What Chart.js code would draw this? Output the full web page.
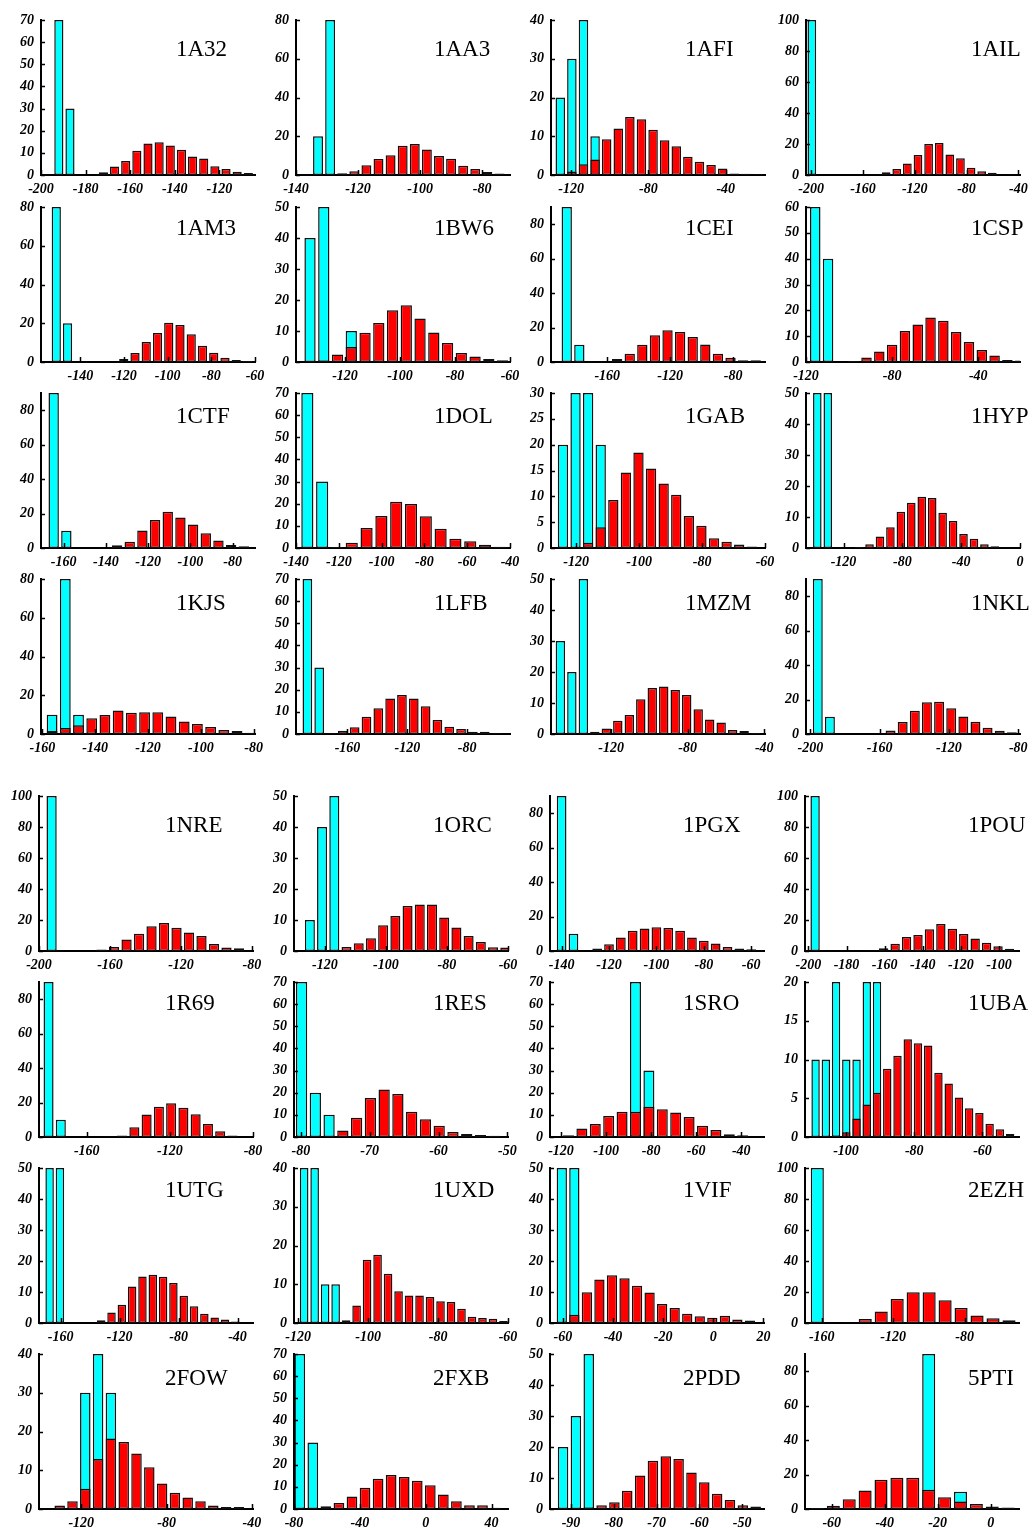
<!DOCTYPE html>
<html>
<head>
<meta charset="utf-8">
<title>Energy histograms</title>
<script src="https://cdn.jsdelivr.net/npm/chart.js@4.4.1/dist/chart.umd.min.js"></script>
<style>
  html, body { margin: 0; padding: 0; background: #fff; }
  #page { position: relative; width: 1036px; height: 1529px; overflow: hidden; }
  #page canvas { position: absolute; }
</style>
</head>
<body>
<div id="page"></div>
<script>
// one histogram per structure, row by row
const names = [
  '1A32', '1AA3', '1AFI', '1AIL',
  '1AM3', '1BW6', '1CEI', '1CSP',
  '1CTF', '1DOL', '1GAB', '1HYP',
  '1KJS', '1LFB', '1MZM', '1NKL',
  '1NRE', '1ORC', '1PGX', '1POU',
  '1R69', '1RES', '1SRO', '1UBA',
  '1UTG', '1UXD', '1VIF', '2EZH',
  '2FOW', '2FXB', '2PDD', '5PTI'
];

const xRanges = [
  [-200, -104], [-140, -71], [-130.4, -19.7], [-204, -38.7],
  [-158, -60], [-137.8, -60], [-195.7, -59.8], [-120, -20.6],
  [-170.7, -69.4], [-140, -40], [-128, -60], [-145.5, 0],
  [-160.5, -79.5], [-194.4, -51.4], [-151.4, -39.6], [-202.5, -79],
  [-200, -79.4], [-130.1, -60], [-144.9, -54.6], [-201.8, -89.5],
  [-183, -80], [-81, -49.9], [-124.9, -29.9], [-112, -49.3],
  [-174.7, -29.5], [-121.2, -60], [-65.1, 20.2], [-169.4, -49.5],
  [-139.8, -39.5], [-80, 50], [-94.9, -44.9], [-70.1, 10.7]
];

const xTicks = [
  [-200, -180, -160, -140, -120], [-140, -120, -100, -80], [-120, -80, -40], [-200, -160, -120, -80, -40],
  [-140, -120, -100, -80, -60], [-120, -100, -80, -60], [-160, -120, -80], [-120, -80, -40],
  [-160, -140, -120, -100, -80], [-140, -120, -100, -80, -60, -40], [-120, -100, -80, -60], [-120, -80, -40, 0],
  [-160, -140, -120, -100, -80], [-160, -120, -80], [-120, -80, -40], [-200, -160, -120, -80],
  [-200, -160, -120, -80], [-120, -100, -80, -60], [-140, -120, -100, -80, -60], [-200, -180, -160, -140, -120, -100],
  [-160, -120, -80], [-80, -70, -60, -50], [-120, -100, -80, -60, -40], [-100, -80, -60],
  [-160, -120, -80, -40], [-120, -100, -80, -60], [-60, -40, -20, 0, 20], [-160, -120, -80],
  [-120, -80, -40], [-80, -40, 0, 40], [-90, -80, -70, -60, -50], [-60, -40, -20, 0]
];

const yTops = [
  70, 80, 40, 100,
  80, 50, 90, 60,
  90, 70, 30, 50,
  80, 70, 50, 90,
  100, 50, 90, 100,
  90, 70, 70, 20,
  50, 40, 50, 100,
  40, 70, 50, 90
];

const ySteps = [
  10, 20, 10, 20,
  20, 10, 20, 10,
  20, 10, 5, 10,
  20, 10, 10, 20,
  20, 10, 20, 20,
  20, 10, 10, 5,
  10, 10, 10, 20,
  10, 10, 10, 20
];

// centre of the first bin and bin width for each histogram
const binStarts = [
  -192, -132.9, -125.6, -199.5,
  -151, -132.7, -185.7, -115.7,
  -164.7, -134.7, -124.2, -137.8,
  -156.3, -186.8, -146.5, -195.7,
  -192.9, -124.9, -140, -196.5,
  -178.4, -79.9, -116.7, -108.9,
  -167.5, -118.3, -60.4, -162.5,
  -130.1, -76.5, -91.85, -65.4
];

const binWidths = [
  5, 3.9, 6, 8.2,
  5.15, 5, 8, 5.95,
  6, 6.92, 4, 7.1,
  5, 7.9, 6, 7,
  7.04, 4, 5, 6,
  5.9, 2, 5.95, 3,
  7, 3, 5, 8.95,
  6, 7.93, 3, 6
];

const cyanCounts = [
  [70, 30, 0, 0, 0, 0, 0, 0, 0, 0, 0, 0, 0, 0, 0, 0, 0, 0],
  [20, 80, 0, 0, 0, 0, 0, 0, 0, 0, 0, 0, 0, 0, 0, 0],
  [20, 30, 40, 10, 0, 0, 0, 0, 0, 0, 0, 0, 0, 0, 0, 0, 0, 0],
  [100, 0, 0, 0, 0, 0, 0, 0, 0, 0, 0, 0, 0, 0, 0, 0, 0, 0, 0, 0],
  [80, 20, 0, 0, 0, 0, 0, 0, 0, 0, 0, 0, 0, 0, 0, 0, 0, 0],
  [40, 50, 0, 10, 0, 0, 0, 0, 0, 0, 0, 0, 0, 0, 0],
  [90, 10, 0, 0, 0, 0, 0, 0, 0, 0, 0, 0, 0, 0, 0, 0],
  [60, 40, 0, 0, 0, 0, 0, 0, 0, 0, 0, 0, 0, 0, 0, 0, 0],
  [90, 10, 0, 0, 0, 0, 0, 0, 0, 0, 0, 0, 0, 0, 0, 0],
  [70, 30, 0, 0, 0, 0, 0, 0, 0, 0, 0, 0, 0, 0],
  [20, 30, 30, 20, 0, 0, 0, 0, 0, 0, 0, 0, 0, 0, 0, 0],
  [50, 50, 0, 0, 0, 0, 0, 0, 0, 0, 0, 0, 0, 0, 0, 0, 0, 0, 0, 0],
  [10, 80, 10, 0, 0, 0, 0, 0, 0, 0, 0, 0, 0, 0, 0, 0],
  [70, 30, 0, 0, 0, 0, 0, 0, 0, 0, 0, 0, 0, 0, 0, 0, 0],
  [30, 20, 50, 0, 0, 0, 0, 0, 0, 0, 0, 0, 0, 0, 0, 0, 0, 0],
  [90, 10, 0, 0, 0, 0, 0, 0, 0, 0, 0, 0, 0, 0, 0, 0, 0],
  [100, 0, 0, 0, 0, 0, 0, 0, 0, 0, 0, 0, 0, 0, 0, 0],
  [10, 40, 50, 0, 0, 0, 0, 0, 0, 0, 0, 0, 0, 0, 0, 0, 0],
  [90, 10, 0, 0, 0, 0, 0, 0, 0, 0, 0, 0, 0, 0, 0, 0, 0],
  [100, 0, 0, 0, 0, 0, 0, 0, 0, 0, 0, 0, 0, 0, 0, 0, 0, 0],
  [90, 10, 0, 0, 0, 0, 0, 0, 0, 0, 0, 0, 0, 0, 0, 0],
  [70, 20, 10, 0, 0, 0, 0, 0, 0, 0, 0, 0, 0, 0, 0],
  [0, 0, 0, 0, 0, 70, 30, 0, 0, 0, 0, 0, 0, 0],
  [10, 10, 20, 10, 10, 20, 20, 0, 0, 0, 0, 0, 0, 0, 0, 0, 0, 0, 0, 0],
  [50, 50, 0, 0, 0, 0, 0, 0, 0, 0, 0, 0, 0, 0, 0, 0, 0, 0, 0],
  [40, 40, 10, 10, 0, 0, 0, 0, 0, 0, 0, 0, 0, 0, 0, 0, 0, 0, 0, 0],
  [50, 50, 0, 0, 0, 0, 0, 0, 0, 0, 0, 0, 0, 0, 0, 0],
  [100, 0, 0, 0, 0, 0, 0, 0, 0, 0, 0, 0, 0],
  [0, 0, 30, 40, 30, 0, 0, 0, 0, 0, 0, 0, 0, 0, 0],
  [70, 30, 0, 0, 0, 0, 0, 0, 0, 0, 0, 0, 0, 0, 0, 0],
  [20, 30, 50, 0, 0, 0, 0, 0, 0, 0, 0, 0, 0, 0, 0, 0],
  [0, 0, 0, 0, 0, 0, 0, 90, 0, 10, 0, 0, 0]
];

const redCounts = [
  [0, 0, 0, 0, 1.2, 3.8, 6.3, 11, 14.2, 14.8, 13.3, 11.4, 8.3, 7.5, 3.9, 2.7, 1.5, 0.9],
  [0, 0, 0.9, 2, 5, 8.3, 10.2, 15.1, 16, 13.1, 9.8, 8.4, 4.8, 3.1, 1.5, 0.8],
  [0, 0.9, 2.8, 4, 9.2, 12, 15, 14.4, 11.7, 9, 7.4, 4.7, 3.4, 2.6, 1.7, 0.4, 0.3, 0.2],
  [0, 0, 0, 0, 0, 0, 0.4, 1.7, 3.9, 7.5, 12.9, 20, 20.6, 13.3, 10.8, 4.7, 2.4, 1.5, 0.2, 0.3],
  [0, 0, 0, 0, 0, 0, 1.5, 4.6, 10.3, 15, 20.3, 19.1, 14.3, 8.4, 4.8, 2.2, 1, 0.5],
  [0, 0.5, 2.4, 4.8, 9.4, 12.6, 16.7, 18.3, 14, 9.5, 6.1, 2.9, 1.8, 1, 0.6],
  [0, 0, 0, 0, 1.7, 4.8, 10, 15.5, 18.4, 17.4, 14.5, 10.2, 4.8, 2.5, 1, 1],
  [0, 0, 0, 0.4, 1.7, 4.1, 6.7, 12, 14.5, 17.2, 16, 11.6, 7.7, 4.6, 2.5, 0.8, 0.6],
  [0, 0, 0, 0, 0.3, 1.6, 3.7, 10.1, 16.3, 21, 17.7, 13.6, 8.6, 4.3, 1.8, 1],
  [0, 0, 0.5, 2.4, 9, 14.5, 20.9, 19.9, 14.3, 8.7, 4.2, 3, 1.5, 0.6],
  [0, 0, 1, 4, 9.3, 14.6, 18.5, 15.4, 12.5, 10.3, 6.2, 4.3, 1.9, 1.2, 0.7, 0.3],
  [0, 0, 0, 0.1, 0.3, 1.2, 3.7, 6.7, 11.7, 14.6, 16.5, 16.1, 11.4, 8.7, 4.5, 3, 1.2, 0.6, 0.2, 0.1],
  [1.6, 3.1, 4.5, 8.1, 9.8, 12.1, 11, 11.2, 11.2, 9, 6.4, 5.2, 3.6, 2.1, 1.6, 0.7],
  [0, 0, 0.3, 1.5, 3, 7.8, 11.6, 16, 17.6, 16, 12.5, 6.3, 3.3, 2.3, 1, 1, 0.3],
  [0, 0, 0, 0.75, 1.8, 4.3, 6.1, 11.2, 14.8, 15.3, 14.2, 12.6, 8, 4.7, 3.7, 1.3, 1, 0.3],
  [0, 0, 0, 0, 0, 0.3, 2.1, 7, 13.5, 18.4, 18.7, 14.9, 10.2, 7.1, 3.7, 1.9, 1],
  [0, 0, 0, 0, 0.9, 2.6, 7.5, 11.2, 15.9, 18, 15, 12, 9.7, 4.5, 2.2, 1.7],
  [0, 0, 0, 1.3, 2.5, 4.1, 8.3, 11.3, 14.5, 15, 15, 10.8, 7.6, 4.8, 2.9, 1.2, 1.1],
  [0, 0, 0, 1.4, 3.9, 7.8, 11.7, 13, 13.8, 13.4, 11.7, 7.8, 6, 4.3, 2.3, 1.4, 1],
  [0, 0, 0, 0, 0, 0.3, 1.7, 4.7, 9, 10.3, 14, 17.4, 14.4, 11, 8, 5.4, 3, 1.5],
  [0, 0, 0, 0, 0, 0.3, 0.8, 5.6, 13, 17.6, 19.6, 17, 13.2, 7.6, 3.3, 0.8],
  [0, 0, 0, 2.9, 8.7, 17.6, 21.5, 19.4, 11.4, 8, 5.1, 2.3, 1.4, 0.9, 0.6],
  [0.8, 3.8, 5.9, 9.5, 11.4, 11.4, 13.7, 12.5, 11.1, 9, 5.1, 3.2, 1.2, 0.8],
  [0, 0, 0.2, 0.6, 2.4, 4.2, 5.7, 8.8, 10.5, 12.6, 12.1, 11.8, 8.3, 6.9, 5.1, 3.7, 3.1, 1.7, 1, 0.4],
  [0, 0, 0, 0, 0, 0.9, 3.4, 5.9, 11.8, 15, 15.6, 14.9, 12.9, 8.8, 5.4, 3, 1.8, 1.1, 0.5],
  [0, 0, 0, 0, 0.7, 4.5, 16.3, 17.6, 12.7, 8.2, 7.1, 7.1, 6.7, 5.6, 5.4, 3.7, 1.6, 1.3, 1.1, 0.5],
  [0, 2.7, 9.9, 14, 15.4, 14.4, 12, 9.8, 6.1, 4.8, 3, 2.2, 1.7, 2.3, 1.1, 0.8],
  [0, 0, 0.4, 2.6, 7.5, 15.5, 19.8, 19.8, 14.6, 9.7, 4.9, 3, 1.7],
  [0.9, 2, 5.2, 12.9, 18.2, 17.3, 14.3, 10.8, 6.6, 4.2, 3, 2, 0.9, 0.5, 0.5],
  [0, 0, 1.2, 2.7, 5.7, 9.6, 13.7, 15.4, 14.5, 12.8, 10.7, 6.5, 3.5, 1.7, 1.7, 0.6],
  [0, 0, 0.5, 1.2, 2.2, 5.9, 10.8, 15.6, 17, 16.1, 11.8, 8.6, 4.9, 2.9, 1.2, 0.8],
  [0.6, 1.9, 5.6, 10.7, 17, 18.2, 18.2, 11.2, 6.8, 4.3, 2.9, 1.5, 0.8]
];

// page layout; the canvas margins leave room for the edge tick labels
const PLOT_W = 214, PLOT_H = 155, AXIS_W = 40, PAD_TOP = 16, PAD_RIGHT = 24, XAXIS_H = 24;
const rowTops = [20, 207, 393, 579, 796, 982, 1168, 1354];
const colAxis = [[41, 296, 551, 806], [39, 294, 550, 805]];
const titleDx = [[135, 138, 134, 165], [126, 139, 133, 163]];
const titleDy = [36, 28, 30, 31, 36, 28, 29, 31];

const serif = '"Liberation Serif", "Times New Roman", serif';
const tickFont = { family: serif, size: 14, style: 'italic', weight: 'bold' };

// short tick marks pointing into the plot, drawn over the bars
const innerTicks = {
  id: 'innerTicks',
  afterDatasetsDraw(chart) {
    const { ctx, chartArea, scales: { x, y } } = chart;
    ctx.save();
    ctx.strokeStyle = '#000';
    ctx.lineWidth = 1.5;
    ctx.beginPath();
    x.ticks.forEach(t => {
      const px = Math.round(x.getPixelForValue(t.value)) + 0.5;
      ctx.moveTo(px, chartArea.bottom);
      ctx.lineTo(px, chartArea.bottom - 5);
    });
    y.ticks.forEach(t => {
      const py = Math.round(y.getPixelForValue(t.value)) + 0.5;
      ctx.moveTo(chartArea.left, py);
      ctx.lineTo(chartArea.left + 4, py);
    });
    ctx.stroke();
    ctx.restore();
  }
};

const panelTitle = {
  id: 'panelTitle',
  afterDraw(chart, args, opts) {
    const { ctx, chartArea } = chart;
    ctx.save();
    ctx.font = '23px ' + serif;
    ctx.fillStyle = '#000';
    ctx.textBaseline = 'alphabetic';
    ctx.fillText(opts.text, chartArea.left + opts.dx, chartArea.top + opts.dy);
    ctx.restore();
  }
};

const page = document.getElementById('page');

names.forEach((name, i) => {
  const row = Math.floor(i / 4), col = i % 4, half = row < 4 ? 0 : 1;

  const canvas = document.createElement('canvas');
  canvas.width = AXIS_W + PLOT_W + PAD_RIGHT;
  canvas.height = PAD_TOP + PLOT_H + XAXIS_H;
  canvas.style.left = (colAxis[half][col] - AXIS_W) + 'px';
  canvas.style.top = (rowTops[row] - PAD_TOP) + 'px';
  page.appendChild(canvas);

  const bins = cyanCounts[i].map((_, k) => +(binStarts[i] + k * binWidths[i]).toFixed(3));
  const points = arr => arr.map((v, k) => ({ x: bins[k], y: v > 0 ? v : null }));
  const barStyle = {
    borderColor: '#111',
    borderWidth: 1.5,
    borderSkipped: false,
    grouped: false,
    barPercentage: 0.82,
    categoryPercentage: 1
  };

  const yTickValues = [];
  for (let v = 0; v <= yTops[i]; v += ySteps[i]) yTickValues.push(v);

  new Chart(canvas, {
    type: 'bar',
    data: {
      datasets: [
        { data: points(redCounts[i]), backgroundColor: '#ff0000', ...barStyle },
        { data: points(cyanCounts[i]), backgroundColor: '#00ffff', ...barStyle }
      ]
    },
    options: {
      responsive: false,
      animation: false,
      events: [],
      layout: { padding: { top: PAD_TOP, right: PAD_RIGHT, left: 0, bottom: 0 } },
      plugins: {
        legend: { display: false },
        tooltip: { enabled: false },
        panelTitle: { text: name, dx: titleDx[half][col], dy: titleDy[row] }
      },
      scales: {
        x: {
          type: 'linear',
          min: xRanges[i][0],
          max: xRanges[i][1],
          offset: false,
          afterBuildTicks: s => { s.ticks = xTicks[i].map(v => ({ value: v })); },
          afterFit: s => { s.height = XAXIS_H; },
          grid: { display: false, drawTicks: false },
          border: { display: true, color: '#000', width: 2 },
          ticks: {
            autoSkip: false, maxRotation: 0, padding: 6,
            color: '#000', font: tickFont,
            callback: v => String(v)
          }
        },
        y: {
          type: 'linear',
          min: 0,
          max: yTops[i],
          afterBuildTicks: s => { s.ticks = yTickValues.map(v => ({ value: v })); },
          afterFit: s => { s.width = AXIS_W; },
          grid: { display: false, drawTicks: false },
          border: { display: true, color: '#000', width: 2 },
          ticks: {
            padding: 7, color: '#000', font: tickFont,
            callback: v => String(v)
          }
        }
      }
    },
    plugins: [innerTicks, panelTitle]
  });
});
</script>
</body>
</html>
